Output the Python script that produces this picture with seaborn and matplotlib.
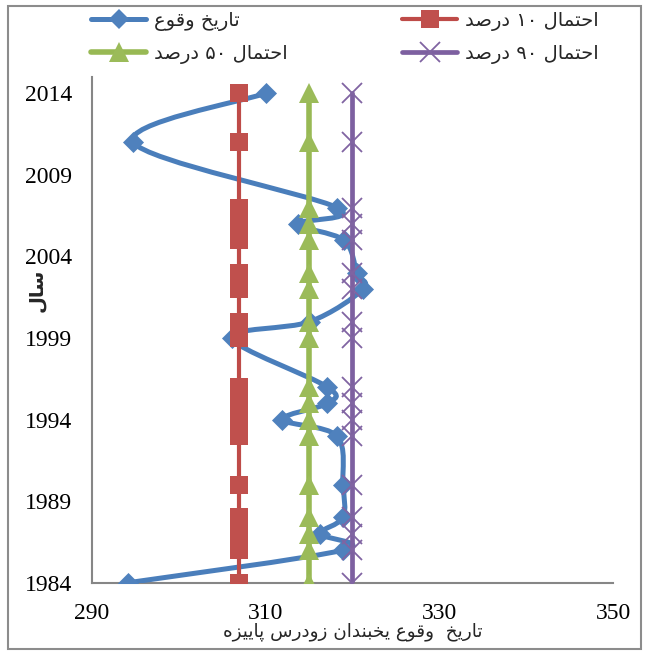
import numpy as np
import pandas as pd
import matplotlib
matplotlib.use("Agg")
import matplotlib.pyplot as plt
from matplotlib.path import Path
from matplotlib.patches import PathPatch, Rectangle
from matplotlib.lines import Line2D
import seaborn as sns

# ---- data -------------------------------------------------------------
years = [1984, 1986, 1987, 1988, 1990, 1993, 1994, 1995, 1996,
         1999, 2000, 2002, 2003, 2005, 2006, 2007, 2011, 2014]
frost_day = [294.2, 318.9, 316.3, 318.9, 318.9, 318.2, 311.9, 317.1, 317.1,
             306.1, 315.1, 321.2, 320.5, 319.0, 313.7, 318.2, 294.8, 310.0]
p10_day = 307
p50_day = 315
p90_day = 320

x_ticks = [290, 310, 330, 350]
y_ticks = [1984, 1989, 1994, 1999, 2004, 2009, 2014]

label_obs = "تاریخ وقوع"
label_p10 = "احتمال ۱۰ درصد"
label_p50 = "احتمال ۵۰ درصد"
label_p90 = "احتمال ۹۰ درصد"
x_title = "تاریخ  وقوع یخبندان زودرس پاییزه"
y_title = "سال"

# ---- Persian shaping for matplotlib (no built-in bidi / joining) -------
FORMS = {
    # isolated, final, initial, medial
    "ا": ("\uFE8D", "\uFE8E", None, None),
    "ب": ("\uFE8F", "\uFE90", "\uFE91", "\uFE92"),
    "پ": ("\uFB56", "\uFB57", "\uFB58", "\uFB59"),
    "ت": ("\uFE95", "\uFE96", "\uFE97", "\uFE98"),
    "ح": ("\uFEA1", "\uFEA2", "\uFEA3", "\uFEA4"),
    "خ": ("\uFEA5", "\uFEA6", "\uFEA7", "\uFEA8"),
    "د": ("\uFEA9", "\uFEAA", None, None),
    "ر": ("\uFEAD", "\uFEAE", None, None),
    "ز": ("\uFEAF", "\uFEB0", None, None),
    "س": ("\uFEB1", "\uFEB2", "\uFEB3", "\uFEB4"),
    "ص": ("\uFEB9", "\uFEBA", "\uFEBB", "\uFEBC"),
    "ع": ("\uFEC9", "\uFECA", "\uFECB", "\uFECC"),
    "ق": ("\uFED5", "\uFED6", "\uFED7", "\uFED8"),
    "ل": ("\uFEDD", "\uFEDE", "\uFEDF", "\uFEE0"),
    "م": ("\uFEE1", "\uFEE2", "\uFEE3", "\uFEE4"),
    "ن": ("\uFEE5", "\uFEE6", "\uFEE7", "\uFEE8"),
    "ه": ("\uFEE9", "\uFEEA", "\uFEEB", "\uFEEC"),
    "و": ("\uFEED", "\uFEEE", None, None),
    "ی": ("\uFBFC", "\uFBFD", "\uFBFE", "\uFBFF"),
}


def _shape_word(word):
    out = []
    for i, ch in enumerate(word):
        if ch not in FORMS:
            out.append(ch)
            continue
        prev = word[i - 1] if i > 0 else None
        nxt = word[i + 1] if i + 1 < len(word) else None
        iso, fin, ini, med = FORMS[ch]
        join_prev = prev in FORMS and FORMS[prev][2] is not None
        join_next = nxt in FORMS and ini is not None
        if join_prev and join_next:
            out.append(med)
        elif join_prev:
            out.append(fin)
        elif join_next:
            out.append(ini)
        else:
            out.append(iso)
    return "".join(out)


def fa(text):
    parts = []
    for tok in text.split(" "):
        if any(c in FORMS for c in tok):
            parts.append(_shape_word(tok)[::-1])
        else:
            parts.append(tok)
    return " ".join(parts[::-1])


# ---- style ----------------------------------------------------------------
sns.set_style("white")
plt.rcParams["font.family"] = ["Liberation Serif", "DejaVu Sans"]
persian_font = ["DejaVu Sans"]

c_obs_line, c_obs_mark = "#4A7EBB", "#4F81BD"
c_p10_line, c_p10_mark = "#BE4B48", "#C0504D"
c_p50_line, c_p50_mark = "#98B954", "#9BBB59"
c_p90_line, c_p90_mark = "#7D60A0", "#8064A2"
axis_grey = "#868686"

n = len(years)
df = pd.DataFrame({
    "year": years,
    "frost": frost_day,
    "p10": [p10_day] * n,
    "p50": [p50_day] * n,
    "p90": [p90_day] * n,
})

W, H = 649, 656
fig = plt.figure(figsize=(W / 100, H / 100), dpi=100)
ax_l, ax_r, ax_t, ax_b = 91.7, 613.3, 77.0, 582.7
ax = fig.add_axes([ax_l / W, 1 - ax_b / H, (ax_r - ax_l) / W, (ax_b - ax_t) / H])
ax.set_xlim(290, 350)
ax.set_ylim(1984, 2015)

# observed dates: smoothed line through the points (Catmull-Rom as cubic Bezier)
pts = df[["frost", "year"]].to_numpy(dtype=float)
verts = [pts[0]]
codes = [Path.MOVETO]
for i in range(n - 1):
    p0 = pts[max(i - 1, 0)]
    p1 = pts[i]
    p2 = pts[i + 1]
    p3 = pts[min(i + 2, n - 1)]
    verts += [p1 + (p2 - p0) / 6.0, p2 - (p3 - p1) / 6.0, p2]
    codes += [Path.CURVE4] * 3
ax.add_patch(PathPatch(Path(verts, codes), facecolor="none",
                       edgecolor=c_obs_line, linewidth=3.6,
                       capstyle="round", joinstyle="round", zorder=2))
sns.scatterplot(data=df, x="frost", y="year", ax=ax, marker="D", s=115,
                color=c_obs_mark, edgecolor=c_obs_mark, linewidth=0,
                zorder=3, legend=False)

# probability levels
sns.lineplot(data=df, x="p10", y="year", ax=ax, orient="y", sort=False,
             estimator=None, color=c_p10_line, linewidth=3.0,
             marker="s", markersize=12.5, markerfacecolor=c_p10_mark,
             markeredgewidth=0, zorder=4, legend=False)
sns.lineplot(data=df, x="p50", y="year", ax=ax, orient="y", sort=False,
             estimator=None, color=c_p50_line, linewidth=4.0,
             marker="^", markersize=14, markerfacecolor=c_p50_mark,
             markeredgewidth=0, zorder=5, legend=False)
sns.lineplot(data=df, x="p90", y="year", ax=ax, orient="y", sort=False,
             estimator=None, color=c_p90_line, linewidth=3.4,
             marker="x", markersize=14, markeredgecolor=c_p90_mark,
             markeredgewidth=1.3, zorder=6, legend=False)

# axes
ax.set_xticks(x_ticks)
ax.set_yticks(y_ticks)
for side in ("top", "right"):
    ax.spines[side].set_visible(False)
for side in ("left", "bottom"):
    ax.spines[side].set_color(axis_grey)
    ax.spines[side].set_linewidth(1.5)
    ax.spines[side].set_zorder(1)
ax.tick_params(axis="both", direction="out", length=4.8, width=1.5,
               color=axis_grey, labelsize=17, labelcolor="black", pad=9.5)
ax.grid(False)

ax.set_xlabel(fa(x_title), family=persian_font, fontsize=13.2,
              ha="center", va="center")
ax.xaxis.set_label_coords(0.5, (ax_b - 632) / (ax_b - ax_t))
ax.set_ylabel(fa(y_title), family=persian_font, fontsize=14,
              fontweight="bold", ha="center", va="center")
ax.yaxis.set_label_coords((36 - ax_l) / (ax_r - ax_l), (ax_b - 290) / (ax_b - ax_t))

# legend in two columns
h_obs = Line2D([], [], color=c_obs_line, lw=3.6, marker="D", ms=10,
               markerfacecolor=c_obs_mark, markeredgewidth=0)
h_p10 = Line2D([], [], color=c_p10_line, lw=3.0, marker="s", ms=12.5,
               markerfacecolor=c_p10_mark, markeredgewidth=0)
h_p50 = Line2D([], [], color=c_p50_line, lw=4.0, marker="^", ms=14,
               markerfacecolor=c_p50_mark, markeredgewidth=0)
h_p90 = Line2D([], [], color=c_p90_line, lw=3.4, marker="x", ms=14,
               markeredgecolor=c_p90_mark, markeredgewidth=1.3)

leg_kw = dict(loc="upper left", frameon=False, borderpad=0, borderaxespad=0,
              handlelength=2.85, handletextpad=0.4, labelspacing=0.68,
              prop={"family": persian_font, "size": 14})
leg1 = fig.legend([h_obs, h_p50], [fa(label_obs), fa(label_p50)],
                  bbox_to_anchor=(91 / W, 1 - 11 / H), **leg_kw)
leg2 = fig.legend([h_p10, h_p90], [fa(label_p10), fa(label_p90)],
                  bbox_to_anchor=(402 / W, 1 - 11 / H), **leg_kw)

# chart border
fig.patches.append(Rectangle((7.5 / W, 1 - 649 / H), (641 - 7.5) / W, (649 - 5.5) / H,
                             transform=fig.transFigure, fill=False,
                             edgecolor="#8C8C8C", linewidth=1.5))

fig.savefig("out.png", dpi=100)
